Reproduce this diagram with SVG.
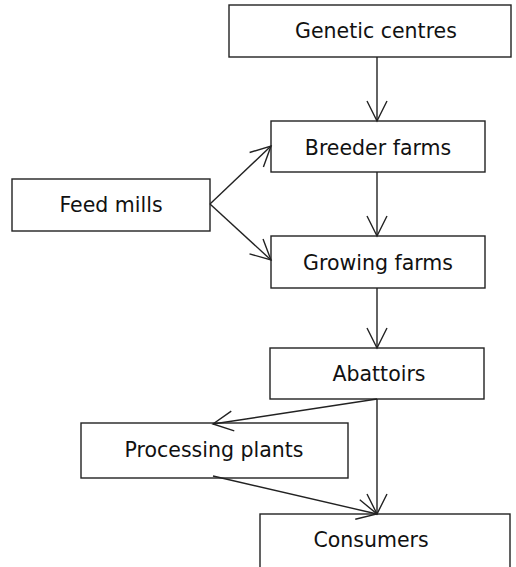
<svg xmlns="http://www.w3.org/2000/svg" width="516" height="567" viewBox="0 0 516 567">
<style>
rect{fill:#fff;stroke:#222;stroke-width:1.4}
text{font-family:"DejaVu Sans",Verdana,sans-serif;font-size:20.5px;fill:#111;text-anchor:middle}
.c line{stroke:#222;stroke-width:1.4}
</style>
<defs>
<marker id="a" markerUnits="userSpaceOnUse" markerWidth="24" markerHeight="24" viewBox="-22 -12 24 24" refX="0" refY="0" orient="auto" overflow="visible">
<path d="M-20,-10 L0,0 L-20,10" fill="none" stroke="#222" stroke-width="1.4"/>
</marker>
</defs>
<g id="genetic"><rect x="229" y="5" width="282" height="52"/><text x="376" y="38">Genetic centres</text></g>
<g id="breeder"><rect x="271" y="121" width="214" height="51"/><text x="378" y="155">Breeder farms</text></g>
<g id="feed"><rect x="12" y="179" width="198" height="52"/><text x="111" y="212">Feed mills</text></g>
<g id="growing"><rect x="271" y="236" width="214" height="52"/><text x="378" y="270">Growing farms</text></g>
<g id="abattoirs"><rect x="270" y="348" width="214" height="51"/><text x="379" y="381">Abattoirs</text></g>
<g id="processing"><rect x="81" y="423" width="267" height="55"/><text x="214" y="457">Processing plants</text></g>
<g id="consumers"><rect x="260" y="514" width="250" height="60"/><text x="371" y="547">Consumers</text></g>
<g class="c">
<line x1="377" y1="57" x2="377" y2="121" marker-end="url(#a)"/>
<line x1="210" y1="204" x2="271" y2="146" marker-end="url(#a)"/>
<line x1="210" y1="204" x2="271" y2="260" marker-end="url(#a)"/>
<line x1="377" y1="172" x2="377" y2="236" marker-end="url(#a)"/>
<line x1="377" y1="288" x2="377" y2="348" marker-end="url(#a)"/>
<line x1="377" y1="399" x2="213" y2="424" marker-end="url(#a)"/>
<line x1="377" y1="399" x2="377" y2="514" marker-end="url(#a)"/>
<line x1="213" y1="476" x2="377" y2="514" marker-end="url(#a)"/>
</g>
</svg>
